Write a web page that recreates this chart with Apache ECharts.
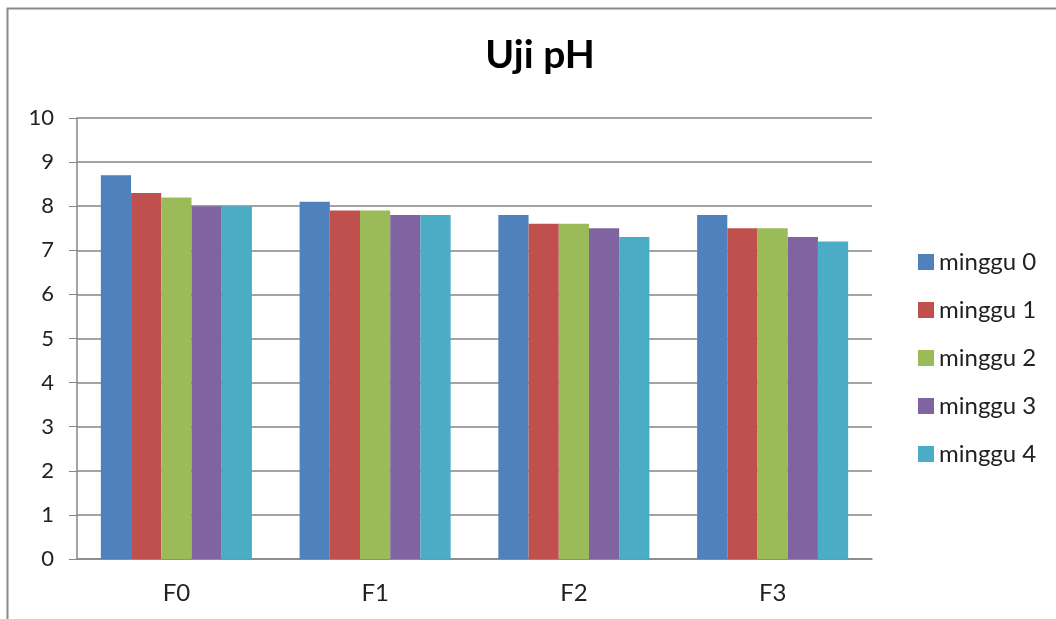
<!DOCTYPE html>
<html>
<head>
<meta charset="utf-8">
<script src="https://cdn.jsdelivr.net/npm/echarts@6/dist/echarts.min.js"></script>
<style>html,body{margin:0;padding:0;background:#fff}#c{width:1056px;height:619px}</style>
</head>
<body>
<div id="c"></div>
<script>
const categories = ['F0', 'F1', 'F2', 'F3'];
const seriesNames = ['minggu 0', 'minggu 1', 'minggu 2', 'minggu 3', 'minggu 4'];
const minggu0 = [8.7, 8.1, 7.8, 7.8];
const minggu1 = [8.3, 7.9, 7.6, 7.5];
const minggu2 = [8.2, 7.9, 7.6, 7.5];
const minggu3 = [8.0, 7.8, 7.5, 7.3];
const minggu4 = [8.0, 7.8, 7.3, 7.2];
const colors = ['#4F81BD', '#C0504D', '#9BBB59', '#8064A2', '#4BACC6'];
const values = [minggu0, minggu1, minggu2, minggu3, minggu4];

const chart = echarts.init(document.getElementById('c'));
const font = 'Lato, "Open Sans", sans-serif';
chart.setOption({
  animation: false,
  color: colors,
  graphic: [{
    type: 'rect', left: 5, top: 6, shape: {width: 1100, height: 700},
    style: {fill: 'none', stroke: '#8a8a8a', lineWidth: 2}, silent: true, z: -1
  }],
  title: {
    text: 'Uji pH', left: 535, top: 31, textAlign: 'center',
    textStyle: {fontFamily: font, fontWeight: 'bold', fontSize: 39, color: '#000'}
  },
  legend: {
    orient: 'vertical', left: 913, top: 245, itemGap: 24, itemWidth: 16, itemHeight: 16,
    icon: 'rect',
    textStyle: {fontFamily: font, fontSize: 24, lineHeight: 24, color: '#222'},
    data: seriesNames
  },
  grid: {left: 77, right: 184, top: 118, bottom: 60, containLabel: false},
  xAxis: {
    type: 'category', data: categories,
    axisLine: {lineStyle: {color: '#868686', width: 1.5}},
    axisTick: {show: false},
    axisLabel: {fontFamily: font, fontSize: 24, color: '#222', margin: 22}
  },
  yAxis: {
    type: 'value', min: 0, max: 10, interval: 1,
    axisLine: {show: true, lineStyle: {color: '#868686', width: 1.5}},
    axisTick: {show: true, length: 8, lineStyle: {color: '#868686'}},
    splitLine: {lineStyle: {color: '#868686', width: 1.5}},
    axisLabel: {fontFamily: font, fontSize: 22, color: '#222', margin: 23}
  },
  series: seriesNames.map((n, i) => ({
    name: n, type: 'bar', data: values[i],
    barGap: '0%', barCategoryGap: '24%'
  }))
});
</script>
</body>
</html>
